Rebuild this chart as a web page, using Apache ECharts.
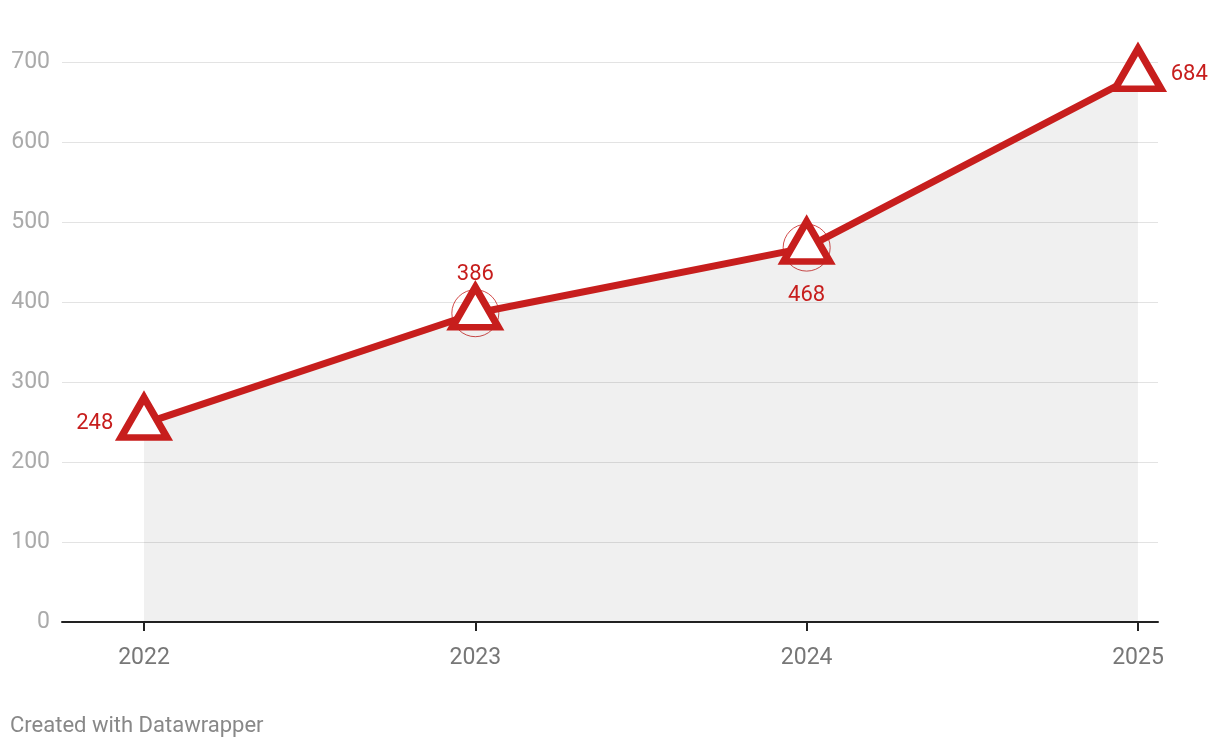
<!DOCTYPE html>
<html>
<head>
<meta charset="utf-8">
<script src="https://cdn.jsdelivr.net/npm/echarts@6/dist/echarts.min.js"></script>
<style>
html,body{margin:0;padding:0;background:#fff;}
#chart{width:1220px;height:748px;}
</style>
</head>
<body>
<div id="chart"></div>
<script>
const years = [2022, 2023, 2024, 2025];
const values = [248, 386, 468, 684];
const yTicks = [0, 100, 200, 300, 400, 500, 600, 700];
const circledYears = [2023, 2024];
const labelPositions = ['left', 'top', 'bottom', 'right'];

const RED = '#c71e1d';
const labelDistances = {left: 4, top: -2, bottom: 20, right: 6};
const labelOffsets = {left: [0, 6], top: [0, 0], bottom: [0, 0], right: [0, 6]};
const lineData = years.map((y, i) => ({
  value: [y, values[i]],
  label: {
    position: labelPositions[i],
    distance: labelDistances[labelPositions[i]],
    offset: labelOffsets[labelPositions[i]]
  }
}));
const circleData = years.map((y, i) => [y, values[i]]).filter(d => circledYears.includes(d[0]));

const chart = echarts.init(document.getElementById('chart'), null, {renderer: 'canvas'});
chart.setOption({
  animation: false,
  backgroundColor: '#fff',
  textStyle: {fontFamily: 'Roboto'},
  grid: {left: 62, right: 62, top: 62, bottom: 126},
  xAxis: {
    type: 'value',
    min: 2021.7525,
    max: 2025.0604,
    splitLine: {show: false},
    axisLine: {show: true, lineStyle: {color: '#222', width: 2}},
    axisTick: {show: true, length: 9, customValues: years, lineStyle: {color: '#222', width: 2}},
    axisLabel: {customValues: years, margin: 25, fontSize: 23, color: '#777', fontFamily: 'Roboto', formatter: v => String(v)}
  },
  yAxis: {
    type: 'value',
    min: 0,
    max: 700,
    interval: 100,
    axisLine: {show: false},
    axisTick: {show: false},
    axisLabel: {margin: 12, fontSize: 23, color: '#aaa', fontFamily: 'Roboto'},
    splitLine: {show: true, lineStyle: {color: '#e3e3e3', width: 1}}
  },
  series: [
    {
      type: 'line',
      data: lineData,
      clip: false,
      z: 3,
      lineStyle: {color: RED, width: 7},
      areaStyle: {color: '#000', opacity: 0.06, origin: 0},
      symbol: 'triangle',
      symbolSize: [46, 40],
      symbolOffset: [0, -6],
      itemStyle: {color: '#fff', borderColor: RED, borderWidth: 7},
      label: {show: true, color: RED, fontSize: 22, fontFamily: 'Roboto', formatter: p => String(p.value[1])}
    },
    {
      type: 'scatter',
      data: circleData,
      clip: false,
      z: 2,
      symbol: 'circle',
      symbolSize: 47,
      itemStyle: {color: 'rgba(0,0,0,0)', borderColor: RED, borderWidth: 1}
    }
  ],
  graphic: [{
    type: 'text', left: 10, top: 715,
    style: {text: 'Created with Datawrapper', fontSize: 22, fill: '#888', fontFamily: 'Roboto'}
  }]
});
</script>
</body>
</html>
